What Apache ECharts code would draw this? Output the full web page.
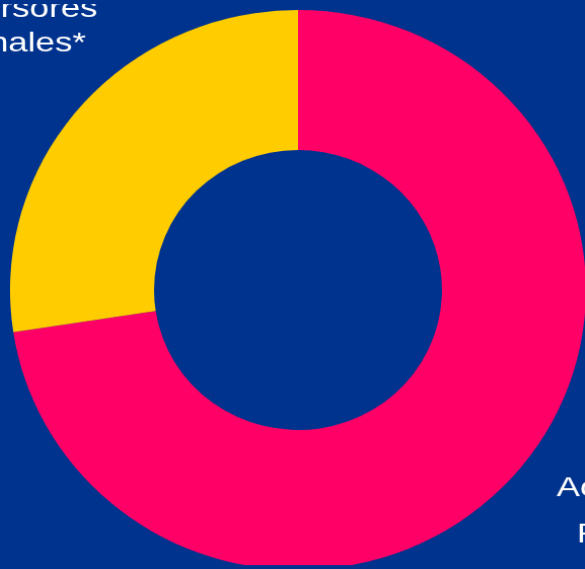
<!DOCTYPE html>
<html>
<head>
<meta charset="utf-8">
<script src="https://cdn.jsdelivr.net/npm/echarts@6/dist/echarts.min.js"></script>
<style>
  html, body { margin: 0; padding: 0; background: #00338e; overflow: hidden; }
  /* slightly wide aspect of the ring */
  #chart { width: 585px; height: 569px; transform-origin: 298px 290px; transform: scale(1.014, 0.986); }
</style>
</head>
<body>
<div id="chart"></div>
<script>
// Shareholder split (percent), drawn clockwise from 12 o'clock
const categories = ['Accionistas\nPrivados', 'Otros inversores\ninstitucionales*'];
const shares = [72.6, 27.4];
const sliceColors = ['#ff0066', '#ffcc00'];

// Label anchor points (px), font size and line spacing for each slice
const labelAnchors = [
  { x: 640, y: 515, size: 28, lineHeight: 47 },
  { x: -26, y: 23, size: 28, lineHeight: 35.5 }
];
// Labels use a wide set: glyphs stretched horizontally
const labelStretch = 1.23;

const chart = echarts.init(document.getElementById('chart'));

chart.setOption({
  backgroundColor: '#00338e',
  animation: false,
  series: [{
    type: 'pie',
    center: [298, 290],
    radius: [142, 284],
    startAngle: 90,
    clockwise: true,
    silent: true,
    itemStyle: { borderWidth: 0 },
    label: { show: false },
    labelLine: { show: false },
    data: categories.map(function (name, i) {
      return { name: name, value: shares[i], itemStyle: { color: sliceColors[i] } };
    })
  }],
  graphic: categories.map(function (name, i) {
    const a = labelAnchors[i];
    return {
      type: 'text',
      x: a.x,
      y: a.y,
      scaleX: labelStretch,
      silent: true,
      style: {
        text: name,
        fill: '#ffffff',
        font: a.size + 'px "Liberation Sans", Arial, sans-serif',
        lineHeight: a.lineHeight,
        align: 'center',
        verticalAlign: 'middle'
      }
    };
  })
});
</script>
</body>
</html>
